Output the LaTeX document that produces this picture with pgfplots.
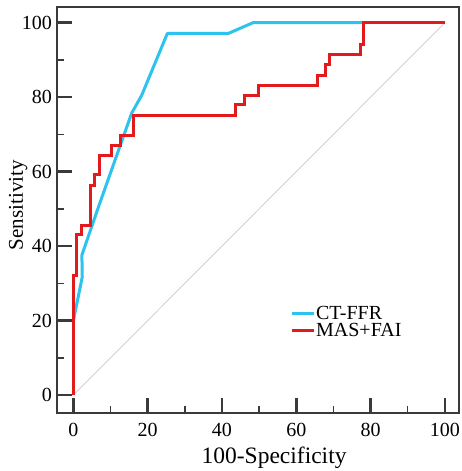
\documentclass[border=0pt]{standalone}
\usepackage{fontspec}
\setmainfont{Liberation Serif}
\usepackage{pgfplots}
\pgfplotsset{compat=1.18}
\definecolor{ctffr}{HTML}{2CC3EE}
\definecolor{masfai}{HTML}{E31A1C}
\definecolor{frame}{HTML}{3A3A3A}
\definecolor{diag}{HTML}{D2C4C4}
\begin{document}
\begin{tikzpicture}
\begin{axis}[
  scale only axis,
  width=402pt, height=406pt,
  xmin=-4.4, xmax=103.8, ymin=-4.8, ymax=104.2,
  axis line style={line width=2.5pt, color=frame},
  xtick={0,20,40,60,80,100}, ytick={0,20,40,60,80,100},
  xticklabels={0,20,40,60,80,100}, yticklabels={0,20,40,60,80,100},
  minor xtick={10,30,50,70,90}, minor ytick={10,30,50,70,90},
  xtick pos=bottom, ytick pos=left,
  tick align=inside,
  major tick length=15pt, minor tick length=7.5pt,
  major tick style={line width=2.6pt, color=frame},
  minor tick style={line width=1.5pt, color=frame},
  /pgf/number format/assume math mode=true,
  tick label style={font=\rmfamily\fontsize{20}{24}\selectfont, inner sep=0pt},
  xticklabel style={text height=14pt, text depth=0pt},
  xticklabel shift=9pt,
  yticklabel shift=5pt,
  xlabel={100-Specificity}, ylabel={Sensitivity},
  xlabel style={font=\rmfamily\fontsize{23.5}{28}\selectfont, inner sep=0pt,
    at={(axis description cs:0.54,0)}, anchor=base, yshift=-50pt},
  ylabel style={font=\rmfamily\fontsize{21}{25}\selectfont, inner sep=0pt,
    at={(axis description cs:0,0.512)}, anchor=base, yshift=34pt},
  legend style={at={(axis cs:58.3,24.0)}, anchor=north west, draw=none, fill=none,
    inner sep=0pt, row sep=1pt, column sep=1pt,
    nodes={inner sep=0pt, text height=14pt, text depth=2pt, font=\rmfamily\fontsize{20}{24}\selectfont}},
  legend cell align=left,
  clip=false,
]
\addplot[diag, line width=0.7pt, forget plot] coordinates {(0,0) (100,100)};
\addplot[ctffr, line width=3pt, line join=round,
  legend image code/.code={\draw[ctffr, line width=3pt] (0pt,0pt) -- (22pt,0pt);}]
  coordinates {(0,20) (2.4,31.7) (2.3,37.6) (7.0,51.2) (15.7,75.7) (18.4,80.5) (25.3,97.1) (41.7,97.1) (48.4,100) (78.2,100)};
\addlegendentry{CT-FFR}
\addplot[masfai, line width=3pt, line join=miter,
  legend image code/.code={\draw[masfai, line width=3pt] (0pt,0pt) -- (22pt,0pt);}]
  coordinates {(0,0) (0,32.2) (0.9,32.2) (0.9,43) (2.25,43) (2.25,45.6) (4.7,45.6) (4.7,56.4) (5.7,56.4) (5.7,59.1) (7.0,59.1) (7.0,64.4) (10.4,64.4) (10.4,67.1) (12.8,67.1) (12.8,69.8) (16.2,69.8) (16.2,75.2) (43.7,75.2) (43.7,77.9) (46.0,77.9) (46.0,80.5) (49.8,80.5) (49.8,83.2) (65.7,83.2) (65.7,85.9) (68.0,85.9) (68.0,88.8) (68.9,88.8) (68.9,91.4) (77.4,91.4) (77.4,94.1) (78.2,94.1) (78.2,100) (100,100)};
\addlegendentry{MAS+FAI}
\end{axis}
\pgfresetboundingbox
\path (current axis.south west) ++(-57pt,-58pt) coordinate (bbA);
\path (current axis.north east) ++(2pt,7pt) coordinate (bbB);
\path[use as bounding box] (bbA) rectangle (bbB);
\end{tikzpicture}
\end{document}
